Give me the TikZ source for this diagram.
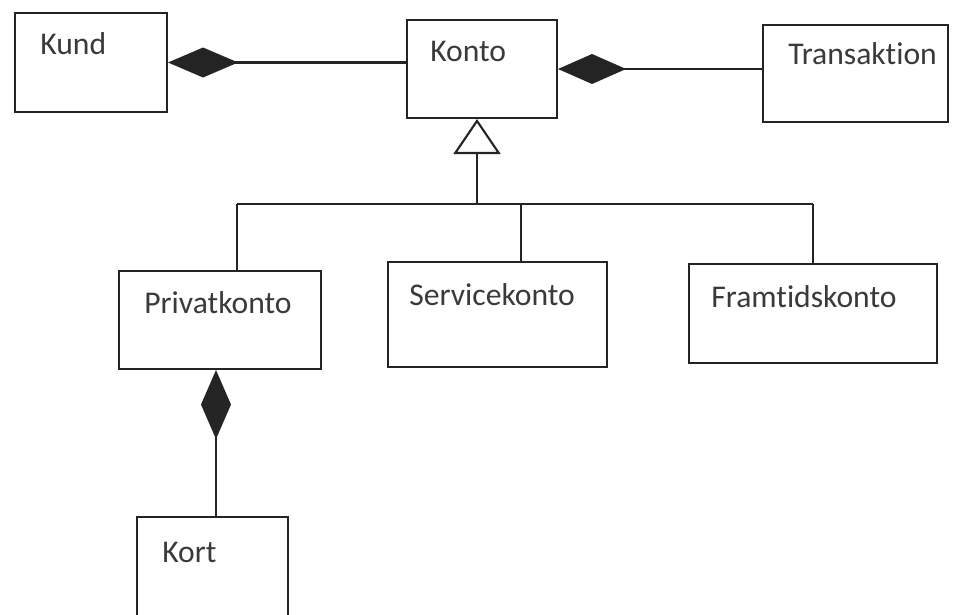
\documentclass[tikz,border=0pt]{standalone}
\usepackage{fontspec}
\setmainfont{Carlito}[Ligatures={NoCommon}]
\usepackage{xcolor}
\usepackage{tikz}
\usetikzlibrary{arrows.meta}
\definecolor{ink}{HTML}{242424}
\definecolor{txt}{HTML}{3A3A3A}

\begin{document}
\begin{tikzpicture}[x=0.02cm, y=-0.02cm,
    box/.style={draw=ink, line width=1.2pt, rectangle, inner sep=0pt},
    lbl/.style={anchor=base west, inner sep=0pt, text=txt, font=\fontsize{18}{20}\selectfont},
    comp/.style={draw=ink, line width=1.2pt, {Diamond[length=#1, width=0.6cm, fill=ink]}-},
    inherit/.style={draw=ink, line width=1.2pt, -{Triangle[open, length=0.7cm, width=0.94cm, fill=white]}}]
  \useasboundingbox (0,0) rectangle (957,615);
  \clip (0,0) rectangle (957,615);
  \fill[white] (0,0) rectangle (957,615);
  % classes
  \node[box, minimum width=3.04cm, minimum height=1.98cm] (kund) at (91,62.5) {};
  \node[box, minimum width=3.00cm, minimum height=1.96cm] (konto) at (482,69) {};
  \node[box, minimum width=3.70cm, minimum height=1.94cm] (trans) at (855.5,73.5) {};
  \node[box, minimum width=4.04cm, minimum height=1.96cm] (privat) at (220,320) {};
  \node[box, minimum width=4.38cm, minimum height=2.10cm] (service) at (497.5,314.5) {};
  \node[box, minimum width=4.96cm, minimum height=1.98cm] (framtid) at (813,313.5) {};
  \node[box, minimum width=3.02cm, minimum height=2.00cm] (kort) at (212.5,567) {};
  \node[lbl] (kundtxt) at (40,55) {Kund};
  \node[lbl] (kontotxt) at (430,62) {Konto};
  \node[lbl] (transtxt) at (788,65) {Transaktion};
  \node[lbl] (privattxt) at (144,313) {Privatkonto};
  \node[lbl] (servicetxt) at (409,305) {Servicekonto};
  \node[lbl] (framtidtxt) at (711,307) {Framtidskonto};
  \node[lbl] (korttxt) at (162,562) {Kort};
  % compositions
  \draw[comp=1.4cm] (kund.east) -- (kund.east -| konto.west);
  \draw[comp=1.36cm] (konto.east) -- (konto.east -| trans.west);
  \draw[comp=1.38cm] ([xshift=0.07cm]kort.north |- privat.south) -- ([xshift=0.07cm]kort.north);
  % generalisation
  \coordinate (split) at (477,204);
  \coordinate (p1) at (237,204);
  \coordinate (p2) at (521,204);
  \coordinate (p3) at (813,204);
  \draw[inherit] (split) -- (split |- konto.south);
  \draw[ink, line width=1.2pt] (p1) -- (p3);
  \draw[ink, line width=1.2pt] (p1) -- (p1 |- privat.north);
  \draw[ink, line width=1.2pt] (p2) -- (p2 |- service.north);
  \draw[ink, line width=1.2pt] (p3) -- (p3 |- framtid.north);
\end{tikzpicture}
\end{document}
